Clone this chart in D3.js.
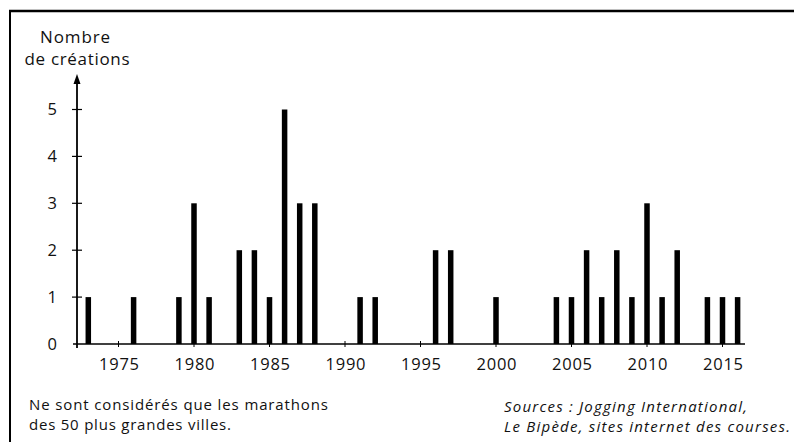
<!DOCTYPE html>
<html>
<head>
<meta charset="utf-8">
<script src="https://cdn.jsdelivr.net/npm/d3@7"></script>
<style>
  html, body { margin: 0; padding: 0; background: #fff; }
  svg { display: block; }
  text { font-family: "Open Sans", "Noto Sans", sans-serif; fill: #111; }
</style>
</head>
<body>
<svg id="chart" width="794" height="442"></svg>
<script>
// ---- data ----
const years  = [1973, 1976, 1979, 1980, 1981, 1983, 1984, 1985, 1986, 1987, 1988, 1991, 1992, 1996, 1997, 2000, 2004, 2005, 2006, 2007, 2008, 2009, 2010, 2011, 2012, 2014, 2015, 2016];
const counts = [1, 1, 1, 3, 1, 2, 2, 1, 5, 3, 3, 1, 1, 2, 2, 1, 1, 1, 2, 1, 2, 1, 3, 1, 2, 1, 1, 1];
const xTicks = [1975, 1980, 1985, 1990, 1995, 2000, 2005, 2010, 2015];
const yTicks = [0, 1, 2, 3, 4, 5];
const yTitle = ["Nombre", "de créations"];
const noteLeft = ["Ne sont considérés que les marathons", "des 50 plus grandes villes."];
const noteRight = ["Sources : Jogging International,", "Le Bipède, sites internet des courses."];

const svg = d3.select("#chart");

// frame
svg.append("line").attr("x1", 9).attr("x2", 794).attr("y1", 11).attr("y2", 11)
  .attr("stroke", "#000").attr("stroke-width", 2.5);
svg.append("line").attr("x1", 10).attr("x2", 10).attr("y1", 10).attr("y2", 442)
  .attr("stroke", "#000").attr("stroke-width", 2);

// scales
const x = d3.scaleLinear().domain([1975, 2015]).range([118.5, 722.5]);
const y = d3.scaleLinear().domain([0, 5]).range([344, 109.5]);
const x0 = 77;   // y axis position
const barW = 5.5;

// bars
svg.append("g").selectAll("rect")
  .data(years.map((yr, i) => ({ yr, v: counts[i] })))
  .join("rect")
  .attr("x", d => x(d.yr) - barW / 2)
  .attr("width", barW)
  .attr("y", d => y(d.v))
  .attr("height", d => y(0) - y(d.v))
  .attr("fill", "#000");

// x axis
const xAxis = svg.append("g").attr("transform", `translate(0,${y(0)})`)
  .call(d3.axisBottom(x).tickValues(xTicks).tickFormat(d3.format("d")).tickSize(0).tickPadding(14));
xAxis.select(".domain").remove();
xAxis.selectAll("text").attr("font-size", 16.5).attr("font-family", "'Open Sans', sans-serif")
  .attr("textLength", 40).attr("lengthAdjust", "spacing");
svg.append("line").attr("x1", 73).attr("x2", 745).attr("y1", y(0)).attr("y2", y(0))
  .attr("stroke", "#000").attr("stroke-width", 1.6);
svg.append("g").selectAll("line").data(xTicks).join("line")
  .attr("x1", d => x(d)).attr("x2", d => x(d))
  .attr("y1", y(0) - 3).attr("y2", y(0) + 3)
  .attr("stroke", "#000").attr("stroke-width", 1);

// y axis
const yAxis = svg.append("g").attr("transform", `translate(${x0},0)`)
  .call(d3.axisLeft(y).tickValues(yTicks).tickFormat(d3.format("d")).tickSize(0).tickPadding(20));
yAxis.select(".domain").remove();
yAxis.selectAll("text").attr("font-size", 16.5).attr("font-family", "'Open Sans', sans-serif");
svg.append("line").attr("x1", x0).attr("x2", x0).attr("y1", 80).attr("y2", y(0) + 4)
  .attr("stroke", "#000").attr("stroke-width", 1.8);
svg.append("path")
  .attr("d", `M${x0},74 L${x0 - 3.5},84 L${x0 + 3.5},84 Z`)
  .attr("fill", "#000");
svg.append("g").selectAll("line").data(yTicks.filter(d => d > 0)).join("line")
  .attr("x1", x0 - 5).attr("x2", x0 + 5)
  .attr("y1", d => y(d)).attr("y2", d => y(d))
  .attr("stroke", "#000").attr("stroke-width", 1.2);

// y title
const titleW = [70, 105];
svg.append("text").attr("x", 75).attr("y", 43).attr("text-anchor", "middle")
  .attr("font-size", 17).attr("textLength", titleW[0]).attr("lengthAdjust", "spacing").text(yTitle[0]);
svg.append("text").attr("x", 77).attr("y", 65).attr("text-anchor", "middle")
  .attr("font-size", 17).attr("textLength", titleW[1]).attr("lengthAdjust", "spacing").text(yTitle[1]);

// notes
const leftW = [299, 202];
const rightW = [243, 286];
noteLeft.forEach((t, i) => {
  svg.append("text").attr("x", 29).attr("y", 410 + i * 20)
    .attr("font-size", 15).attr("textLength", leftW[i]).attr("lengthAdjust", "spacing").text(t);
});
noteRight.forEach((t, i) => {
  svg.append("text").attr("x", 504).attr("y", 412 + i * 20)
    .attr("font-size", 15).attr("font-style", "italic")
    .attr("textLength", rightW[i]).attr("lengthAdjust", "spacing").text(t);
});
</script>
</body>
</html>
